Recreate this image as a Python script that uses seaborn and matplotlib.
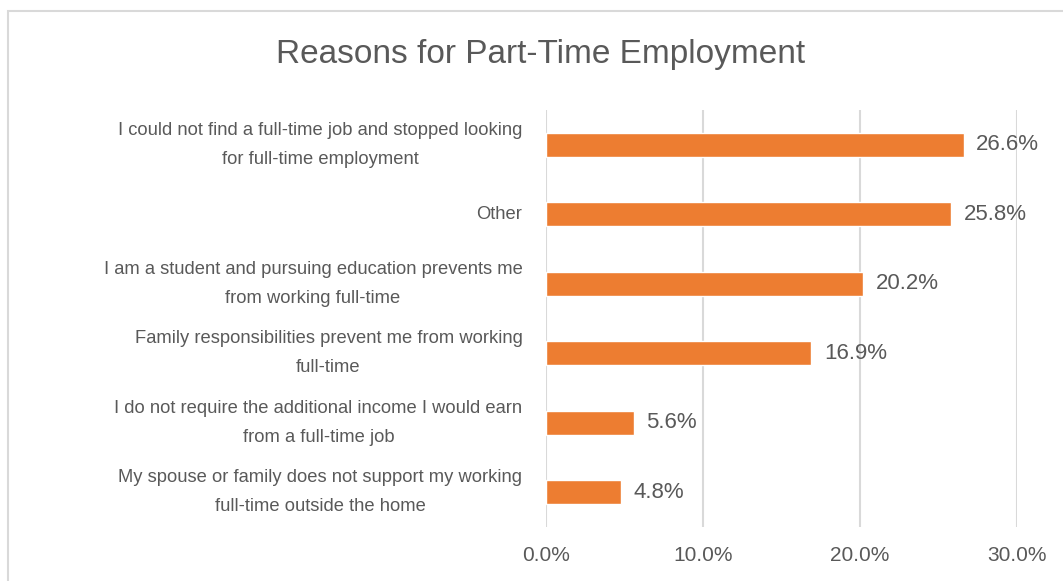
import matplotlib
matplotlib.use("Agg")
import matplotlib.pyplot as plt
import seaborn as sns
import pandas as pd
from matplotlib.patches import Rectangle

categories = [
    "I could not find a full-time job and stopped looking\nfor full-time employment",
    "Other",
    "I am a student and pursuing education prevents me\nfrom working full-time",
    "Family responsibilities prevent me from working\nfull-time",
    "I do not require the additional income I would earn\nfrom a full-time job",
    "My spouse or family does not support my working\nfull-time outside the home",
]
values = [26.6, 25.8, 20.2, 16.9, 5.6, 4.8]
xticks = [0, 10, 20, 30]
xtick_labels = ["0.0%", "10.0%", "20.0%", "30.0%"]

sns.set_theme(style="white")
plt.rcParams['font.family'] = ['Liberation Sans', 'DejaVu Sans']
text_color = "#595959"

fig = plt.figure(figsize=(10.63, 5.81), dpi=100)
fig.patches.append(Rectangle((8/1063, -0.1), 1.2, 1 - 11/581 + 0.1, transform=fig.transFigure,
                             fill=False, edgecolor="#d9d9d9", linewidth=1.5))
ax = fig.add_axes([546/1063, 1 - 527/581, (1017 - 546)/1063, (527 - 110)/581])

df = pd.DataFrame({"cat": categories, "val": values})
sns.barplot(data=df, x="val", y="cat", ax=ax, color="#ED7D31", width=0.35, saturation=1)

ax.set_xlim(0, 30)
ax.set_ylim(5.5, -0.5)
ax.set_xticks(xticks)
ax.set_xticklabels(xtick_labels, fontsize=15, color=text_color)
ax.tick_params(axis="x", length=0, pad=14)
ax.tick_params(axis="y", length=0, pad=17)
ax.set_yticks(range(len(categories)))
ax.set_yticklabels(categories, fontsize=13.2, color=text_color, multialignment="center",
                   linespacing=1.9, va="center")
ax.set_xlabel("")
ax.set_ylabel("")
for s in ax.spines.values():
    s.set_visible(False)
ax.grid(axis="x", color="#d9d9d9", linewidth=1.5)
ax.set_axisbelow(True)

for i, v in enumerate(values):
    ax.text(v + 0.8, i, f"{v:.1f}%", va="center", ha="left", fontsize=16, color=text_color)

fig.text(541/1063, 1 - 55/581, "Reasons for Part-Time Employment", ha="center", va="center",
         fontsize=24, color=text_color)

fig.savefig("out.png", dpi=100)
